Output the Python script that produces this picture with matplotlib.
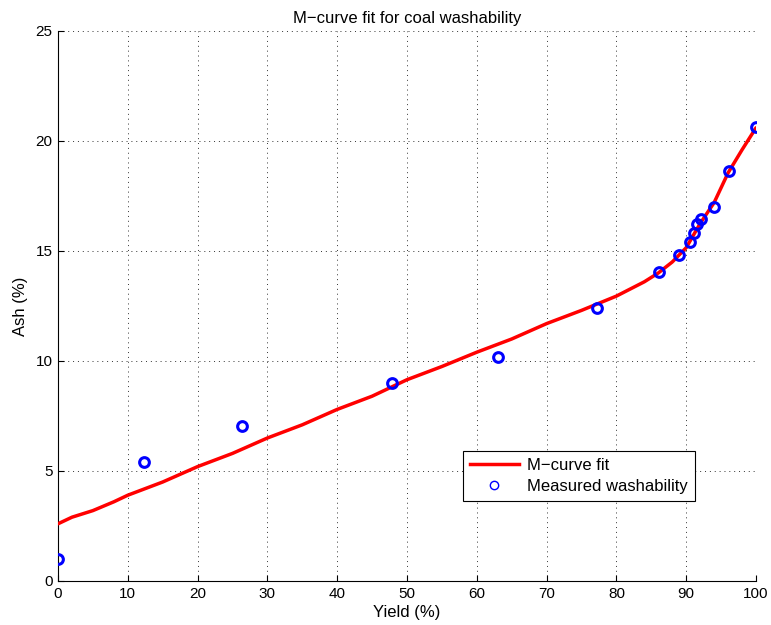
import matplotlib
matplotlib.use("Agg")
import matplotlib.pyplot as plt
from matplotlib.lines import Line2D

plt.rcParams['font.family'] = ['Liberation Sans', 'DejaVu Sans']

# M-curve fit
fit_yield = [0, 2, 5, 8, 10, 15, 20, 25, 30, 35, 40, 45, 50, 55, 60, 65, 70, 75,
             80, 84, 86, 88, 90, 92, 94, 96, 98, 100]
fit_ash = [2.6, 2.9, 3.2, 3.6, 3.9, 4.5, 5.2, 5.8, 6.5, 7.1, 7.8, 8.4, 9.15, 9.75,
           10.4, 11.0, 11.7, 12.3, 12.95, 13.6, 14.0, 14.5, 15.15, 16.25, 17.2,
           18.55, 19.6, 20.6]

# Measured washability
meas_yield = [0, 12.3, 26.4, 47.8, 63.1, 77.2, 86.1, 89.0, 90.6, 91.1, 91.5, 92.1, 94.0, 96.1, 100]
meas_ash = [1.0, 5.39, 7.05, 8.99, 10.2, 12.4, 14.04, 14.84, 15.42, 15.8, 16.24, 16.44, 17.02, 18.62, 20.64]

xticks = [0, 10, 20, 30, 40, 50, 60, 70, 80, 90, 100]
yticks = [0, 5, 10, 15, 20, 25]

fig = plt.figure(figsize=(7.71, 6.25), dpi=100)
ax = fig.add_axes([58/771, 44/625, 698/771, 550/625])

ax.plot(fit_yield, fit_ash, color='#ff0000', lw=2.5, solid_capstyle='round', zorder=3)
ax.plot(meas_yield, meas_ash, ls='none', marker='o', ms=7, mew=2.2,
        mfc='none', mec='#0000ff', zorder=4)

ax.set_xlim(0, 100)
ax.set_ylim(0, 25)
ax.set_xticks(xticks)
ax.set_yticks(yticks)
ax.tick_params(direction='in', length=4, width=0.8, labelsize=11, pad=4)
ax.grid(True, ls=(0, (1, 4)), color='#333333', lw=0.7)
for s in ['top', 'right']:
    ax.spines[s].set_visible(False)
for s in ['left', 'bottom']:
    ax.spines[s].set_linewidth(0.8)

ax.set_title('M\u2212curve fit for coal washability', fontsize=12, pad=6)
ax.set_xlabel('Yield (%)', fontsize=12, labelpad=3)
ax.set_ylabel('Ash (%)', fontsize=12, labelpad=5)

handles = [Line2D([], [], color='#ff0000', lw=2.5),
           Line2D([], [], ls='none', marker='o', ms=6, mew=1.0, mfc='none', mec='#0000ff')]
leg = ax.legend(handles, ['M\u2212curve fit', 'Measured washability'],
                loc='lower left', bbox_to_anchor=(0.58, 0.1455), fontsize=12,
                fancybox=False, framealpha=1, edgecolor='black', borderpad=0.42,
                handlelength=2.95, handletextpad=0.5, labelspacing=0.38,
                borderaxespad=0)
leg.get_frame().set_linewidth(0.8)

fig.savefig('out.png', dpi=100)
